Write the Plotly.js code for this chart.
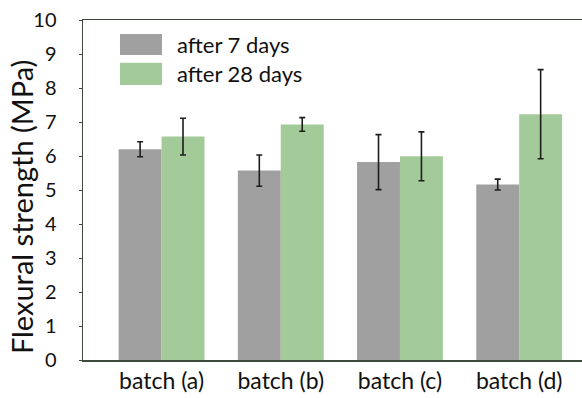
<!DOCTYPE html>
<html>
<head>
<meta charset="utf-8">
<script src="https://cdn.plot.ly/plotly-3.0.1.min.js"></script>
<style>html,body{margin:0;padding:0;background:#fff;}#chart{width:582px;height:398px;}</style>
</head>
<body>
<div id="chart"></div>
<script>
const categories = ["batch (a)", "batch (b)", "batch (c)", "batch (d)"];
const seriesNames = ["after 7 days", "after 28 days"];
const values7 = [6.2, 5.57, 5.82, 5.16];
const errors7 = [0.22, 0.46, 0.81, 0.16];
const values28 = [6.57, 6.93, 5.99, 7.23];
const errors28 = [0.54, 0.20, 0.72, 1.31];
const yTicks = [0, 1, 2, 3, 4, 5, 6, 7, 8, 9, 10];
const yTitle = "Flexural strength (MPa)";

const FONT = "Lato, 'Open Sans', sans-serif";
const colors = ["#a0a0a0", "#a3ca99"];
const errStyle = {type: "data", visible: true, color: "#1e1e1e", thickness: 1.6, width: 3};

const traces = [
  {type: "bar", name: seriesNames[0], x: categories, y: values7,
   marker: {color: colors[0]}, error_y: Object.assign({array: errors7}, errStyle)},
  {type: "bar", name: seriesNames[1], x: categories, y: values28,
   marker: {color: colors[1]}, error_y: Object.assign({array: errors28}, errStyle)}
];

const legendY = [[0.897, 0.959], [0.809, 0.874]];
const shapes = seriesNames.map((n, i) => ({
  type: "rect", xref: "paper", yref: "paper",
  x0: 0.0741, x1: 0.1583, y0: legendY[i][0], y1: legendY[i][1],
  fillcolor: colors[i], line: {width: 0}
}));
const annotations = seriesNames.map((n, i) => ({
  text: n, xref: "paper", yref: "paper", x: 0.184, xanchor: "left",
  y: (legendY[i][0] + legendY[i][1]) / 2, yanchor: "middle", showarrow: false,
  font: {family: FONT, size: 22, color: "#111"}
}));
annotations.push({
  text: yTitle, xref: "paper", yref: "paper", x: -0.124, y: 0.45,
  xanchor: "center", yanchor: "middle", textangle: -90, showarrow: false,
  font: {family: FONT, size: 29, color: "#111"}
});

const layout = {
  width: 582, height: 398,
  margin: {l: 83, r: 0, t: 20, b: 38, pad: 0},
  paper_bgcolor: "#fff", plot_bgcolor: "#fff",
  showlegend: false,
  barmode: "group", bargap: 0.28, bargroupgap: 0,
  font: {family: FONT, size: 20, color: "#111"},
  xaxis: {
    type: "category", range: [-0.659, 3.527],
    showline: true, linecolor: "#3b4a3b", linewidth: 1.5, mirror: true,
    ticks: "", showgrid: false, zeroline: false,
    tickfont: {family: FONT, size: 23, color: "#111"}
  },
  yaxis: {
    range: [0, 10], tickvals: yTicks, ticktext: yTicks.map(String),
    showline: true, linecolor: "#3b4a3b", linewidth: 1.5,
    ticks: "outside", ticklen: 3, tickcolor: "#3b4a3b",
    ticklabelstandoff: 18,
    showgrid: false, zeroline: false,
    tickfont: {family: FONT, size: 20, color: "#111"}
  },
  shapes: shapes,
  annotations: annotations
};

Plotly.newPlot("chart", traces, layout, {displayModeBar: false, staticPlot: true});
</script>
</body>
</html>
